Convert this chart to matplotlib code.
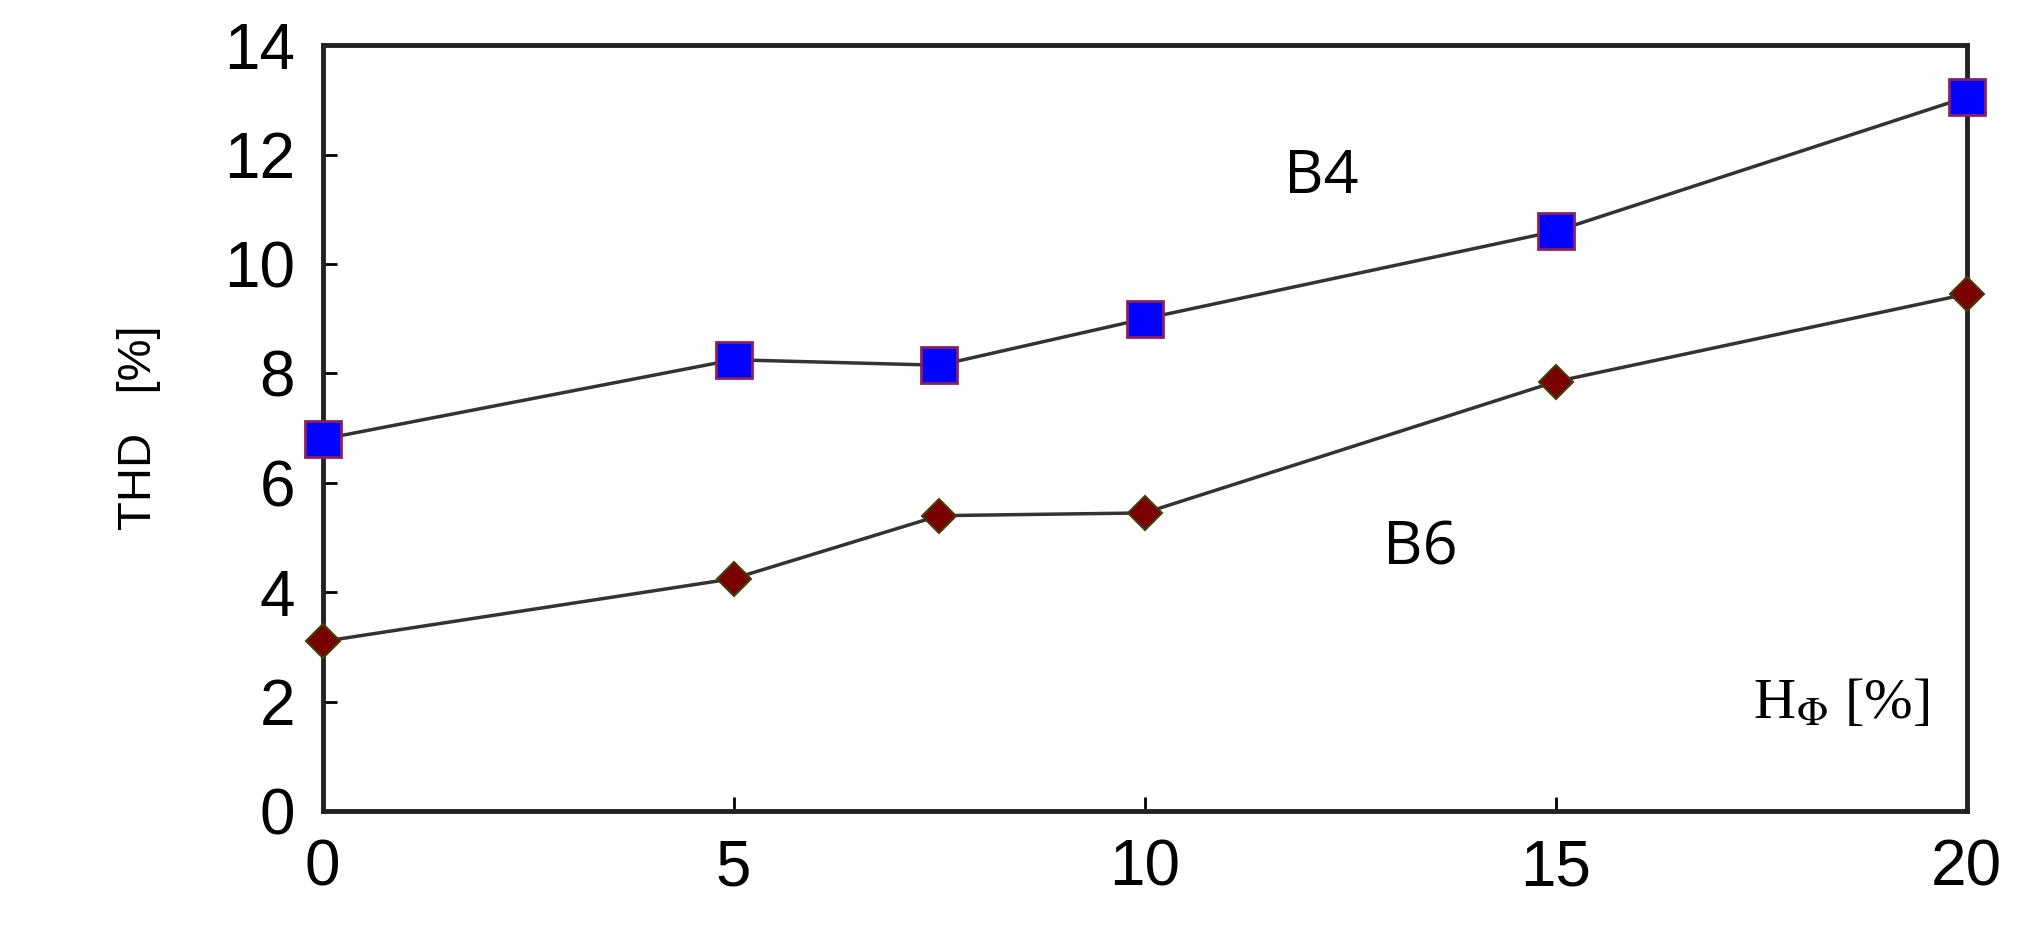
import matplotlib
matplotlib.use("Agg")
import matplotlib.pyplot as plt

# H_phi [%] values and THD [%] for each configuration
h_phi = [0, 5, 7.5, 10, 15, 20]
thd_b4 = [6.8, 8.25, 8.15, 9.0, 10.6, 13.05]
thd_b6 = [3.1, 4.25, 5.4, 5.45, 7.85, 9.45]
x_ticks = [0, 5, 10, 15, 20]
y_ticks = [0, 2, 4, 6, 8, 10, 12, 14]

plt.rcParams["mathtext.fontset"] = "stix"
fig = plt.figure(figsize=(20.17, 9.42), dpi=100)
ax = fig.add_axes([0.160, 0.139, 0.815, 0.813])

ax.plot(h_phi, thd_b4, color="#333333", linewidth=2.5, marker="s",
        markersize=26, markerfacecolor="#0000ff", markeredgecolor="#8a2060",
        markeredgewidth=2, zorder=3, clip_on=False)
ax.plot(h_phi, thd_b6, color="#333333", linewidth=2.5, marker="D",
        markersize=17, markerfacecolor="#7a0000", markeredgecolor="#404000",
        markeredgewidth=1.5, zorder=3, clip_on=False)

ax.set_xlim(0, 20)
ax.set_ylim(0, 14)
ax.set_xticks(x_ticks)
ax.set_yticks(y_ticks)
ax.tick_params(direction="in", length=10, width=2, labelsize=46, pad=20)
for lab in ax.get_xticklabels() + ax.get_yticklabels():
    lab.set_family("Liberation Sans")
for s in ax.spines.values():
    s.set_linewidth(3.5)
    s.set_color("#222222")

ax.set_ylabel("THD   [%]", fontsize=34, family="Liberation Sans", labelpad=45)
ax.text(11.7, 11.3, "B4", fontsize=44, family="Open Sans")
ax.text(12.9, 4.5, "B6", fontsize=44, family="Open Sans")
ax.text(17.4, 1.7, r"H$_\Phi$ [%]", fontsize=42, family="Liberation Serif")

fig.savefig("out.png", dpi=100)
